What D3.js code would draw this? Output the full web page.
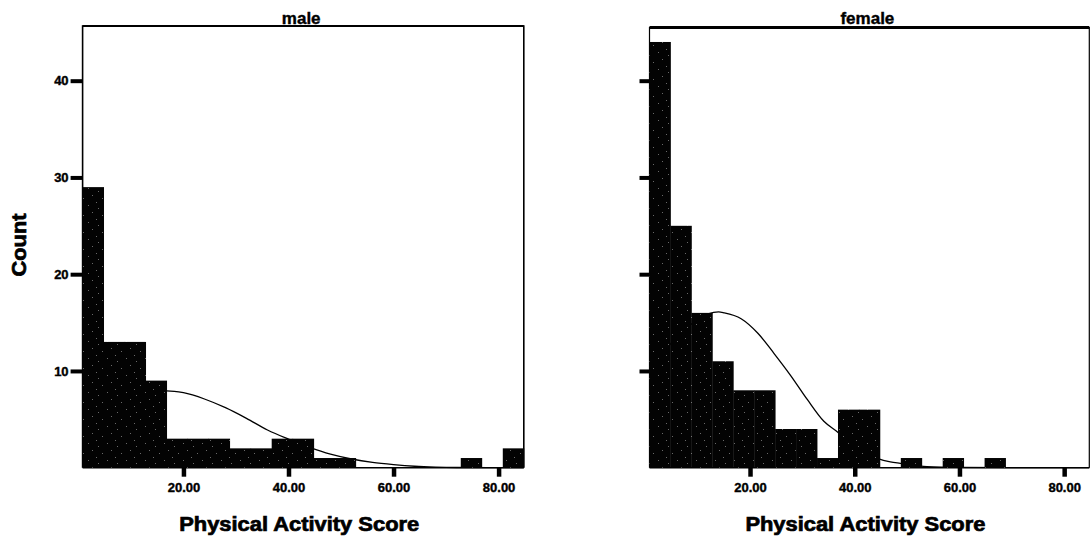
<!DOCTYPE html>
<html>
<head>
<meta charset="utf-8">
<script src="https://cdn.jsdelivr.net/npm/d3@7"></script>
<style>
  html, body { margin: 0; padding: 0; background: #fff; }
  svg { display: block; }
  text { font-family: "Liberation Sans", Arial, sans-serif; font-weight: bold; fill: #000; }
</style>
</head>
<body>
<svg id="chart" width="1090" height="545"></svg>
<script>
// ---------- data ----------
const binStart = 0.8;
const binWidth = 4;
const maleCounts   = [29, 13, 13, 9, 3, 3, 3, 2, 2, 3, 3, 1, 1, 0, 0, 0, 0, 0, 1, 0, 2];
const femaleCounts = [44, 25, 16, 11, 8, 8, 4, 4, 1, 6, 6, 0, 1, 0, 1, 0, 1, 0, 0, 0, 0];

// normal-curve overlay (x = score, y = count)
const maleCurveX = [0.8, 4, 8, 12, 16.8, 20, 24, 28, 32, 36, 40, 44, 48, 52, 56, 60, 64, 68, 72, 78, 84.8];
const maleCurveY = [5.3, 6.0, 6.9, 7.6, 7.95, 7.75, 7.1, 6.2, 5.1, 3.9, 2.95, 2.1, 1.4, 0.9, 0.55, 0.32, 0.15, 0.06, 0.02, 0.01, 0];
const femaleCurveX = [0.8, 4, 8, 12, 14, 15.1, 18.3, 21.5, 24.6, 27.8, 31, 34.1, 36.7, 40, 44.3, 46.8, 48.7, 53.8, 60, 70, 84.8];
const femaleCurveY = [10.1, 12.3, 14.5, 15.9, 16.1, 16.0, 15.4, 13.9, 11.8, 9.5, 7.0, 4.8, 3.7, 2.2, 0.97, 0.6, 0.45, 0.1, 0.03, 0.01, 0];

const panels = ["male", "female"];
const xTickValues = [20, 40, 60, 80];
const yTickValues = [10, 20, 30, 40];
const xTitle = "Physical Activity Score";
const yTitle = "Count";

// ---------- layout ----------
const svg = d3.select("#chart");
const y0 = 467.7, yTop = 26.5;
const yMax = 45.6;
const y = d3.scaleLinear().domain([0, yMax]).range([y0, yTop]);
const xDomain = [binStart, binStart + binWidth * maleCounts.length];

const defs = svg.append("defs");
const pat = defs.append("pattern").attr("id", "grain")
  .attr("patternUnits", "userSpaceOnUse").attr("width", 19).attr("height", 17);
pat.append("rect").attr("width", 19).attr("height", 17).attr("fill", "#030303");
[[3,4],[12,1],[7,11],[16,8],[1,15]].forEach(p => {
  pat.append("rect").attr("x", p[0]).attr("y", p[1]).attr("width", 1).attr("height", 1).attr("fill", "#6a6a6a");
});

const specs = [
  { name: panels[0], counts: maleCounts, cx: maleCurveX, cy: maleCurveY, range: [82.6, 523.8], labels: true, tickLen: 12, top: 26, topW: 2.2, sideW: 1.6 },
  { name: panels[1], counts: femaleCounts, cx: femaleCurveX, cy: femaleCurveY, range: [649.5, 1089.3], labels: false, tickLen: 10, top: 27.5, topW: 3, sideW: 1.2 }
];

specs.forEach(s => {
  const x = d3.scaleLinear().domain(xDomain).range(s.range);
  const g = svg.append("g");

  // frame (top, left, right)
  g.append("path")
    .attr("d", `M${s.range[0]},${y0} L${s.range[0]},${s.top} L${s.range[1]},${s.top} L${s.range[1]},${y0}`)
    .attr("fill", "none").attr("stroke", "#000").attr("stroke-width", s.sideW);
  g.append("line").attr("x1", s.range[0]).attr("x2", s.range[1])
    .attr("y1", s.top).attr("y2", s.top).attr("stroke", "#000").attr("stroke-width", s.topW);

  // baseline
  g.append("line").attr("x1", s.range[0]).attr("x2", s.range[1])
    .attr("y1", y0).attr("y2", y0).attr("stroke", "#000").attr("stroke-width", 1.5);

  // normal curve (under bars)
  const pts = s.cx.map((v, i) => [v, s.cy[i]]);
  const line = d3.line().x(d => x(d[0])).y(d => y(d[1])).curve(d3.curveMonotoneX);
  g.append("path").datum(pts).attr("d", line)
    .attr("fill", "none").attr("stroke", "#000").attr("stroke-width", 1.3);

  // bars
  const bins = s.counts.map((c, i) => ({ x0: binStart + i * binWidth, x1: binStart + (i + 1) * binWidth, c }));
  g.selectAll("rect.bar").data(bins.filter(b => b.c > 0)).join("rect")
    .attr("class", "bar")
    .attr("x", d => x(d.x0))
    .attr("width", d => x(d.x1) - x(d.x0) + 0.4)
    .attr("y", d => y(d.c))
    .attr("height", d => y(0) - y(d.c))
    .attr("fill", "url(#grain)");

  // y axis ticks
  const ya = d3.axisLeft(y).tickValues(yTickValues).tickSize(s.tickLen).tickPadding(2)
    .tickFormat(s.labels ? d3.format("d") : () => "");
  const yg = g.append("g").attr("transform", `translate(${s.range[0]},0)`).call(ya);
  yg.select(".domain").remove();
  yg.selectAll(".tick line").attr("stroke", "#000").attr("stroke-width", 4);
  yg.selectAll(".tick text").style("font-size", "13px").style("font-family", "'Liberation Sans', Arial, sans-serif")
    .style("font-weight", "bold").attr("stroke", "#000").attr("stroke-width", 0.4);

  // x axis ticks
  const xa = d3.axisBottom(x).tickValues(xTickValues).tickSize(9).tickPadding(6).tickFormat(d3.format(".2f"));
  const xg = g.append("g").attr("transform", `translate(0,${y0})`).call(xa);
  xg.select(".domain").remove();
  xg.selectAll(".tick line").attr("stroke", "#000").attr("stroke-width", 4.5);
  xg.selectAll(".tick text").style("font-size", "13px").style("font-family", "'Liberation Sans', Arial, sans-serif")
    .style("font-weight", "bold").attr("stroke", "#000").attr("stroke-width", 0.4);

  // panel title
  const cxm = (s.range[0] + s.range[1]) / 2;
  g.append("text").attr("x", cxm - 2).attr("y", 23.5).attr("text-anchor", "middle")
    .style("font-size", "17px").attr("stroke", "#000").attr("stroke-width", 0.4).text(s.name);

  // x title
  g.append("text").attr("x", cxm - 4).attr("y", 531).attr("text-anchor", "middle")
    .style("font-size", "20px").attr("stroke", "#000").attr("stroke-width", 0.7)
    .attr("textLength", 240).attr("lengthAdjust", "spacingAndGlyphs")
    .text(xTitle);
});

// y title
svg.append("text").attr("transform", "translate(26,245) rotate(-90)")
  .attr("text-anchor", "middle").style("font-size", "20px")
  .attr("stroke", "#000").attr("stroke-width", 0.7)
  .attr("textLength", 63).attr("lengthAdjust", "spacingAndGlyphs")
  .text(yTitle);
</script>
</body>
</html>
